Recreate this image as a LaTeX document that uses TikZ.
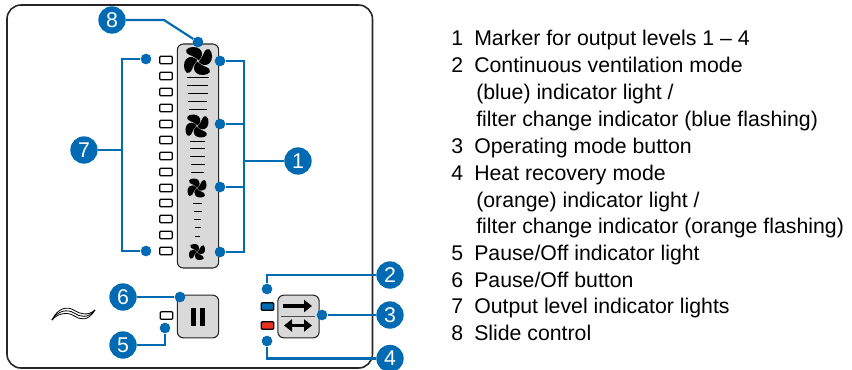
\documentclass[tikz,border=0pt]{standalone}
\usepackage{fontspec}
\setmainfont{Liberation Sans}
\usepackage{tikz}
\usetikzlibrary{arrows.meta,calc}
\definecolor{calloutblue}{RGB}{0,107,179}
\definecolor{panelgrey}{RGB}{217,217,217}
\definecolor{ledblue}{RGB}{0,107,179}
\definecolor{ledred}{RGB}{230,50,30}
\tikzset{
    callout/.style={circle, fill=calloutblue, text=white, inner sep=0pt, minimum size=20.5pt, font=\fontsize{16}{16}\selectfont},
    dot/.style={circle, fill=calloutblue, inner sep=0pt, minimum size=8pt},
    leader/.style={calloutblue, line width=1.6pt},
    led/.style={rectangle, draw=black, fill=white, rounded corners=0.8pt, line width=0.9pt, minimum width=9.5pt, minimum height=5.6pt, inner sep=0pt},
    keycap/.style={rectangle, draw=black!85, fill=panelgrey, rounded corners=4.5pt, line width=0.8pt, minimum width=31pt, minimum height=32pt, inner sep=0pt},
    tick/.style={black, line width=0.6pt},
    listitem/.style={anchor=base west, inner sep=0pt, font=\fontsize{15.95}{15.95}\selectfont},
}
\newcommand{\fanicon}[3]{%
    \foreach \a in {0,90,180,270} {
        \fill[black, shift={(#1,#2)}, rotate=\a, scale=#3]
            (0.06,-0.04) .. controls (0.34,-0.3) and (0.36,-0.62) .. (0.14,-0.84)
            .. controls (-0.06,-1.06) and (-0.66,-1.06) .. (-0.84,-0.8)
            .. controls (-0.92,-0.56) and (-0.62,-0.42) .. (-0.42,-0.36)
            .. controls (-0.24,-0.3) and (-0.1,-0.16) .. cycle;
    }
}
\begin{document}
\begin{tikzpicture}[x=0.75pt, y=-0.75pt]
    \useasboundingbox (0,0) rectangle (852,369);
    % Housing
    \draw[black!85, line width=1.2pt, rounded corners=10.5pt] (7,5) rectangle (372.5,368);
    % Slide control
    \node[keycap, minimum height=168pt] (slider) at (198,156) {};
    \fanicon{198}{61}{14}
    \fanicon{197}{126}{11.5}
    \fanicon{197}{188}{9.5}
    \fanicon{197}{252}{8}
    % Slider ticks
    \foreach \y/\w in {77/22,85/21,93/20,101/19,109/18,141/15,148/15,156/15,164/14,172/13,203/9,211/8,219/7,227/6,236/5} {
        \draw[tick] (197.5-\w/2,\y) -- (197.5+\w/2,\y);
    }
    % Output level lights
    \foreach \i/\y in {1/60,2/76,3/92,4/108,5/124,6/140,7/156,8/172,9/188,10/203,11/219,12/235,13/251} {
        \node[led] (lvl\i) at (166,\y) {};
    }
    % Pause button and light
    \node[keycap] (pausebtn) at (198,316.5) {};
    \fill[black] (191,308) rectangle (196,326);
    \fill[black] (200,308) rectangle (205,326);
    \node[led] (pauseled) at (166.5,315.5) {};
    % Heat recovery symbol
    \foreach \d in {-2.8,0,2.8} {
        \draw[black, line width=0.6pt] (52,320) .. controls (58,310+\d) and (68,309+\d) .. (74,313+\d)
            .. controls (80,317+\d) and (88,319+\d) .. (95,310);
    }
    % Operating mode button
    \node[keycap] (modebtn) at (298.5,316.5) {};
    \draw[black!70, line width=0.75pt] (281,316) -- (315,316);
    \draw[black, line width=2.6pt, -{Triangle[length=6pt,width=9pt]}] (283,306) -- (312,306);
    \draw[black, line width=2.6pt, {Triangle[length=6pt,width=9pt]}-{Triangle[length=6pt,width=9pt]}] (284,325.5) -- (312,325.5);
    \node[led, fill=ledblue] (blueled) at (267.5,306.5) {};
    \node[led, fill=ledred] (redled) at (267.5,325.5) {};
    % Callouts
    \node[callout] (n1) at (298,161) {1};
    \node[callout] (n2) at (390,275) {2};
    \node[callout] (n3) at (390,315) {3};
    \node[callout] (n4) at (390,358.5) {4};
    \node[callout] (n5) at (123,345) {5};
    \node[callout] (n6) at (123,297) {6};
    \node[callout] (n7) at (84,150) {7};
    \node[callout] (n8) at (112,20) {8};
    % Dots
    \node[dot] (dot1a) at (220,61) {};
    \node[dot] (dot1b) at (220,124) {};
    \node[dot] (dot1c) at (220,187) {};
    \node[dot] (dot1d) at (220,252) {};
    \node[dot] (dot2) at (267,289) {};
    \node[dot] (dot3) at (322,315) {};
    \node[dot] (dot4) at (267,341) {};
    \node[dot] (dot5) at (165,328) {};
    \node[dot] (dot6) at (180,297) {};
    \node[dot] (dot7a) at (146,59) {};
    \node[dot] (dot7b) at (146,251) {};
    \node[dot] (dot8) at (198,42) {};
    \coordinate (trunk1) at (244,161);
    \coordinate (trunk7) at (122,150);
    \coordinate (bend8) at (164,20);
    % Leaders
    \draw[leader] (dot1a) -| (trunk1);
    \draw[leader] (dot1d) -| (trunk1);
    \draw[leader] (dot1b) -| (trunk1);
    \draw[leader] (dot1c) -| (trunk1);
    \draw[leader] (trunk1) -- (n1);
    \draw[leader] (dot2) |- (n2);
    \draw[leader] (dot3) -- (n3);
    \draw[leader] (dot4) |- (n4);
    \draw[leader] (dot5) |- (n5);
    \draw[leader] (dot6) -- (n6);
    \draw[leader] (dot7a) -| (trunk7);
    \draw[leader] (dot7b) -| (trunk7);
    \draw[leader] (trunk7) -- (n7);
    \draw[leader] (n8) -- (bend8) -- (dot8);
    % Legend
    \foreach \i/\y/\txt in {1/45/{Marker for output levels 1 – 4},2/72/{Continuous ventilation mode},3/153/{Operating mode button},4/180/{Heat recovery mode},5/260/{Pause/Off indicator light},6/287/{Pause/Off button},7/313/{Output level indicator lights},8/340/{Slide control}} {
        \node[listitem] (num\i) at (451,\y) {\i};
        \node[listitem] (item\i) at (474,\y) {\txt};
    }
    \node[listitem] (sub2a) at (476,99) {(blue) indicator light /};
    \node[listitem] (sub2b) at (476,126) {filter change indicator (blue flashing)};
    \node[listitem] (sub4a) at (476,207) {(orange) indicator light /};
    \node[listitem] (sub4b) at (476,233) {filter change indicator (orange flashing)};
\end{tikzpicture}
\end{document}
